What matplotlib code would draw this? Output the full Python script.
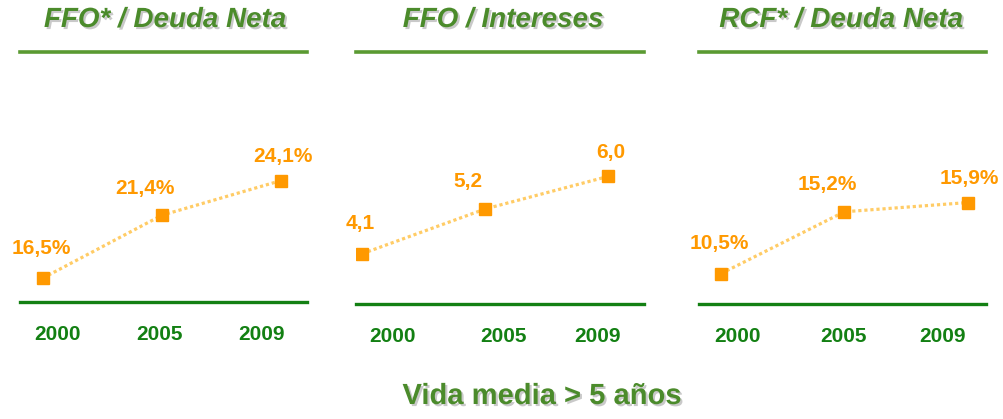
import matplotlib
matplotlib.use("Agg")
import matplotlib.pyplot as plt
import matplotlib.patheffects as pe

plt.rcParams['font.family'] = ['Liberation Sans', 'DejaVu Sans']

# data
titles = ["FFO* / Deuda Neta", "FFO / Intereses", "RCF* / Deuda Neta"]
years = ["2000", "2005", "2009"]
ffo_deuda = [16.5, 21.4, 24.1]
ffo_intereses = [4.1, 5.2, 6.0]
rcf_deuda = [10.5, 15.2, 15.9]
ffo_deuda_lbl = ["16,5%", "21,4%", "24,1%"]
ffo_intereses_lbl = ["4,1", "5,2", "6,0"]
rcf_deuda_lbl = ["10,5%", "15,2%", "15,9%"]
footer = "Vida media > 5 años"

series = [ffo_deuda, ffo_intereses, rcf_deuda]
labels = [ffo_deuda_lbl, ffo_intereses_lbl, rcf_deuda_lbl]

# layout (pixels of a 1004x419 canvas)
W, H = 1004, 419
boxes = [(20, 307, 52, 302), (356, 644, 52, 304), (699, 986, 52, 304)]
xlims = [(-0.193, 2.22), (-0.05, 2.29), (-0.18, 2.15)]
ylims = [(14.63, 34.14), (2.865, 9.055), (8.18, 27.36)]
tick_pos = [(0.12, 0.98, 1.84), (0.25, 1.15, 1.91), (0.13, 0.99, 1.80)]
title_x = [165, 503, 841]
lbl_off = [(-1.5, 21.5), (-12.5, 19.5), (1.5, 17.5)]

title_green = '#4B8B2B'
top_green = '#5A9A32'
dark_green = '#138013'
orange = '#FF9900'
light_orange = '#FFCC66'

shadow = [pe.withSimplePatchShadow(offset=(1.5, -1.5), shadow_rgbFace='#888888', alpha=0.45)]

fig = plt.figure(figsize=(W / 100, H / 100), dpi=100)

for i in range(3):
    x0, x1, yt, yb = boxes[i]
    ax = fig.add_axes([x0 / W, 1 - yb / H, (x1 - x0) / W, (yb - yt) / H])
    xs = range(len(series[i]))
    ax.plot(xs, series[i], color=light_orange, lw=2.3, dashes=(1, 0.9), zorder=2)
    ax.plot(xs, series[i], 's', color=orange, ms=8.6, zorder=3)
    for k, v in enumerate(series[i]):
        ax.annotate(labels[i][k], (k, v), xytext=lbl_off[k], textcoords='offset points',
                    ha='center', va='center', color=orange, fontsize=15, fontweight='bold')
    ax.set_xlim(*xlims[i])
    ax.set_ylim(*ylims[i])
    for s in ['left', 'right']:
        ax.spines[s].set_visible(False)
    ax.spines['top'].set_color(top_green)
    ax.spines['top'].set_linewidth(2.6)
    ax.spines['bottom'].set_color(dark_green)
    ax.spines['bottom'].set_linewidth(2.4)
    ax.set_yticks([])
    ax.set_xticks(tick_pos[i])
    ax.set_xticklabels(years, color=dark_green, fontsize=15, fontweight='bold')
    ax.tick_params(axis='x', length=0, pad=16.5)
    ax.patch.set_alpha(0)

    fig.text(title_x[i] / W, 1 - 20 / H, titles[i], ha='center', va='center',
             fontsize=20, fontweight='bold', fontstyle='italic', color=title_green,
             path_effects=shadow)

fig.text(542 / W, 1 - 396 / H, footer, ha='center', va='center', fontsize=21,
         fontweight='bold', color=title_green, path_effects=shadow)

fig.savefig('out.png', dpi=100)
